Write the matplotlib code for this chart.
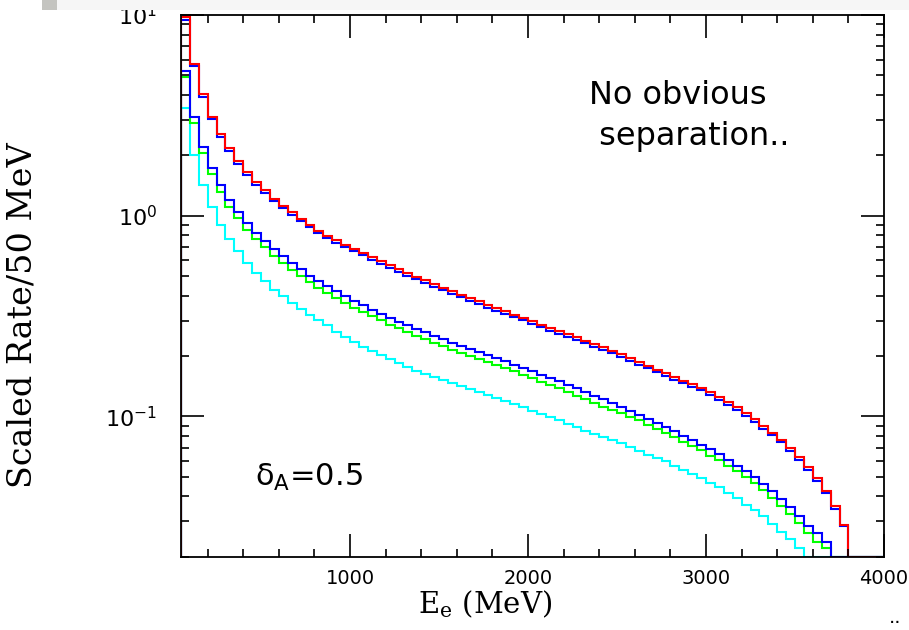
import numpy as np
import matplotlib
matplotlib.use("Agg")
import matplotlib.pyplot as plt
from matplotlib.patches import Rectangle
from matplotlib.ticker import MultipleLocator, LogLocator, NullFormatter

# 50 MeV bins, first bin starts at 50 MeV
bin_width = 50
e_start = 50
e_stop = 4000

red = [9.75, 5.72, 4.04, 3.12, 2.55, 2.17, 1.87, 1.65, 1.47, 1.34,
       1.215, 1.12, 1.04, 0.966, 0.902, 0.842, 0.795, 0.753, 0.717, 0.685,
       0.654, 0.623, 0.593, 0.567, 0.542, 0.519, 0.497, 0.476, 0.456, 0.438,
       0.420, 0.404, 0.388, 0.374, 0.360, 0.347, 0.335, 0.322, 0.310, 0.298,
       0.287, 0.276, 0.266, 0.257, 0.248, 0.239, 0.230, 0.221, 0.212, 0.204,
       0.195, 0.187, 0.179, 0.171, 0.164, 0.157, 0.151, 0.145, 0.139, 0.132,
       0.125, 0.118, 0.111, 0.104, 0.097, 0.090, 0.083, 0.0766, 0.0696, 0.0628,
       0.0559, 0.0494, 0.0427, 0.0357, 0.0289]

blue_hi = [9.40, 5.58, 3.92, 3.03, 2.47, 2.10, 1.81, 1.60, 1.43, 1.30,
           1.18, 1.087, 1.01, 0.937, 0.875, 0.817, 0.771, 0.730, 0.695, 0.664,
           0.634, 0.604, 0.575, 0.550, 0.526, 0.503, 0.482, 0.462, 0.442, 0.425,
           0.407, 0.392, 0.376, 0.363, 0.349, 0.337, 0.325, 0.312, 0.301, 0.289,
           0.278, 0.268, 0.258, 0.249, 0.241, 0.232, 0.223, 0.214, 0.206, 0.198,
           0.189, 0.181, 0.174, 0.166, 0.159, 0.152, 0.146, 0.141, 0.135, 0.128,
           0.121, 0.114, 0.108, 0.101, 0.094, 0.087, 0.0805, 0.0743, 0.0675, 0.0609,
           0.0542, 0.0479, 0.0414, 0.0347, 0.0285]

blue_lo = [5.24, 3.10, 2.21, 1.73, 1.42, 1.20, 1.04, 0.92, 0.822, 0.748,
           0.682, 0.627, 0.580, 0.540, 0.503, 0.472, 0.445, 0.420, 0.397, 0.377,
           0.358, 0.341, 0.325, 0.310, 0.297, 0.284, 0.272, 0.262, 0.252, 0.242,
           0.232, 0.225, 0.217, 0.209, 0.202, 0.195, 0.188, 0.181, 0.174, 0.168,
           0.161, 0.156, 0.150, 0.144, 0.138, 0.132, 0.127, 0.122, 0.117, 0.112,
           0.107, 0.102, 0.097, 0.0927, 0.0886, 0.0842, 0.0801, 0.0759, 0.0723, 0.0688,
           0.0648, 0.0609, 0.0568, 0.0532, 0.0497, 0.0459, 0.0423, 0.0388, 0.0354, 0.0318,
           0.0285, 0.0262, 0.0238]

green = [4.89, 2.90, 2.05, 1.62, 1.31, 1.11, 0.974, 0.852, 0.765, 0.698,
         0.632, 0.582, 0.538, 0.501, 0.467, 0.438, 0.413, 0.390, 0.368, 0.349,
         0.332, 0.316, 0.301, 0.287, 0.275, 0.263, 0.252, 0.243, 0.233, 0.224,
         0.215, 0.208, 0.201, 0.194, 0.187, 0.181, 0.174, 0.168, 0.161, 0.156,
         0.149, 0.144, 0.139, 0.133, 0.126, 0.122, 0.117, 0.111, 0.108, 0.104,
         0.0993, 0.0955, 0.0910, 0.0866, 0.0827, 0.0786, 0.0750, 0.0714, 0.0677, 0.0637,
         0.0604, 0.0568, 0.0532, 0.0499, 0.0466, 0.0428, 0.0392, 0.0359, 0.0328, 0.0294,
         0.0262, 0.0238, 0.0221]

cyan = [3.44, 2.01, 1.427, 1.105, 0.902, 0.765, 0.664, 0.581, 0.518, 0.471,
        0.428, 0.396, 0.367, 0.343, 0.321, 0.303, 0.286, 0.265, 0.250, 0.236,
        0.223, 0.213, 0.203, 0.194, 0.185, 0.177, 0.169, 0.162, 0.157, 0.152,
        0.147, 0.142, 0.137, 0.133, 0.128, 0.124, 0.119, 0.116, 0.111, 0.107,
        0.103, 0.0993, 0.0955, 0.0915, 0.0886, 0.0851, 0.0820, 0.0792, 0.0759, 0.0734,
        0.0704, 0.0669, 0.0645, 0.0621, 0.0597, 0.0568, 0.0542, 0.0518, 0.0493, 0.0466,
        0.0445, 0.0415, 0.0392, 0.0363, 0.0343, 0.0318, 0.0292, 0.0267, 0.0245, 0.0221]

ymin, ymax = 0.02, 10.0

edges = np.arange(e_start, e_stop + bin_width, bin_width)
nbins = len(edges) - 1


def padded(vals):
    # bins past the spectrum end are empty -> draw them on the bottom axis
    out = np.zeros(nbins)
    out[:len(vals)] = vals
    return np.maximum(out, ymin)


fig = plt.figure(figsize=(9.09, 6.30), dpi=100)
ax = fig.add_axes([0.1991, 0.1163, 0.7734, 0.8598])

for vals, col in [(cyan, '#00ffff'), (green, '#00ff00'), (blue_lo, '#0000ff'),
                  (blue_hi, '#0000ff'), (red, '#ff0000')]:
    ax.stairs(padded(vals), edges, baseline=ymin, color=col, lw=1.5)

ax.set_yscale('log')
ax.set_xlim(e_start, e_stop)
ax.set_ylim(ymin, ymax)

ax.xaxis.set_major_locator(MultipleLocator(1000))
ax.xaxis.set_minor_locator(MultipleLocator(200))
ax.yaxis.set_major_locator(LogLocator(base=10))
ax.yaxis.set_minor_locator(LogLocator(base=10, subs=np.arange(2, 10)))
ax.yaxis.set_minor_formatter(NullFormatter())

ax.tick_params(which='both', direction='in', top=True, right=True, width=1.2)
ax.tick_params(which='major', length=16.5)
ax.tick_params(which='minor', length=6)
ax.tick_params(axis='x', which='major', pad=9, labelsize=14)
ax.tick_params(axis='y', which='major', pad=17, labelsize=16)
for sp in ax.spines.values():
    sp.set_linewidth(1.3)

ax.set_xlabel(r'E$_\mathregular{e}$ (MeV)', family='DejaVu Serif', fontsize=21)
ax.set_ylabel('Scaled Rate/50 MeV', family='DejaVu Serif', fontsize=24)
ax.xaxis.set_label_coords(0.432, -0.058)
ax.yaxis.set_label_coords(-0.203, 0.445)

ax.text(2345, 4.75, 'No obvious\n separation..', family='DejaVu Sans',
        fontsize=23, va='top', ha='left', linespacing=1.4)
ax.text(466, 0.0495, r'δ$_\mathregular{A}$=0.5', family='DejaVu Sans',
        fontsize=22, va='center', ha='left')

# slide remnants: grey strip on top, dots at lower right
fig.add_artist(Rectangle((0.046, 0.984), 0.954, 0.016, transform=fig.transFigure,
                         facecolor='#f6f6f6', edgecolor='none', zorder=5))
fig.add_artist(Rectangle((0.046, 0.984), 0.017, 0.016, transform=fig.transFigure,
                         facecolor='#c4c4c0', edgecolor='none', zorder=6))
fig.text(0.985, 0.005, '..', fontsize=14, ha='center', va='bottom')

fig.savefig('out.png', dpi=100)
